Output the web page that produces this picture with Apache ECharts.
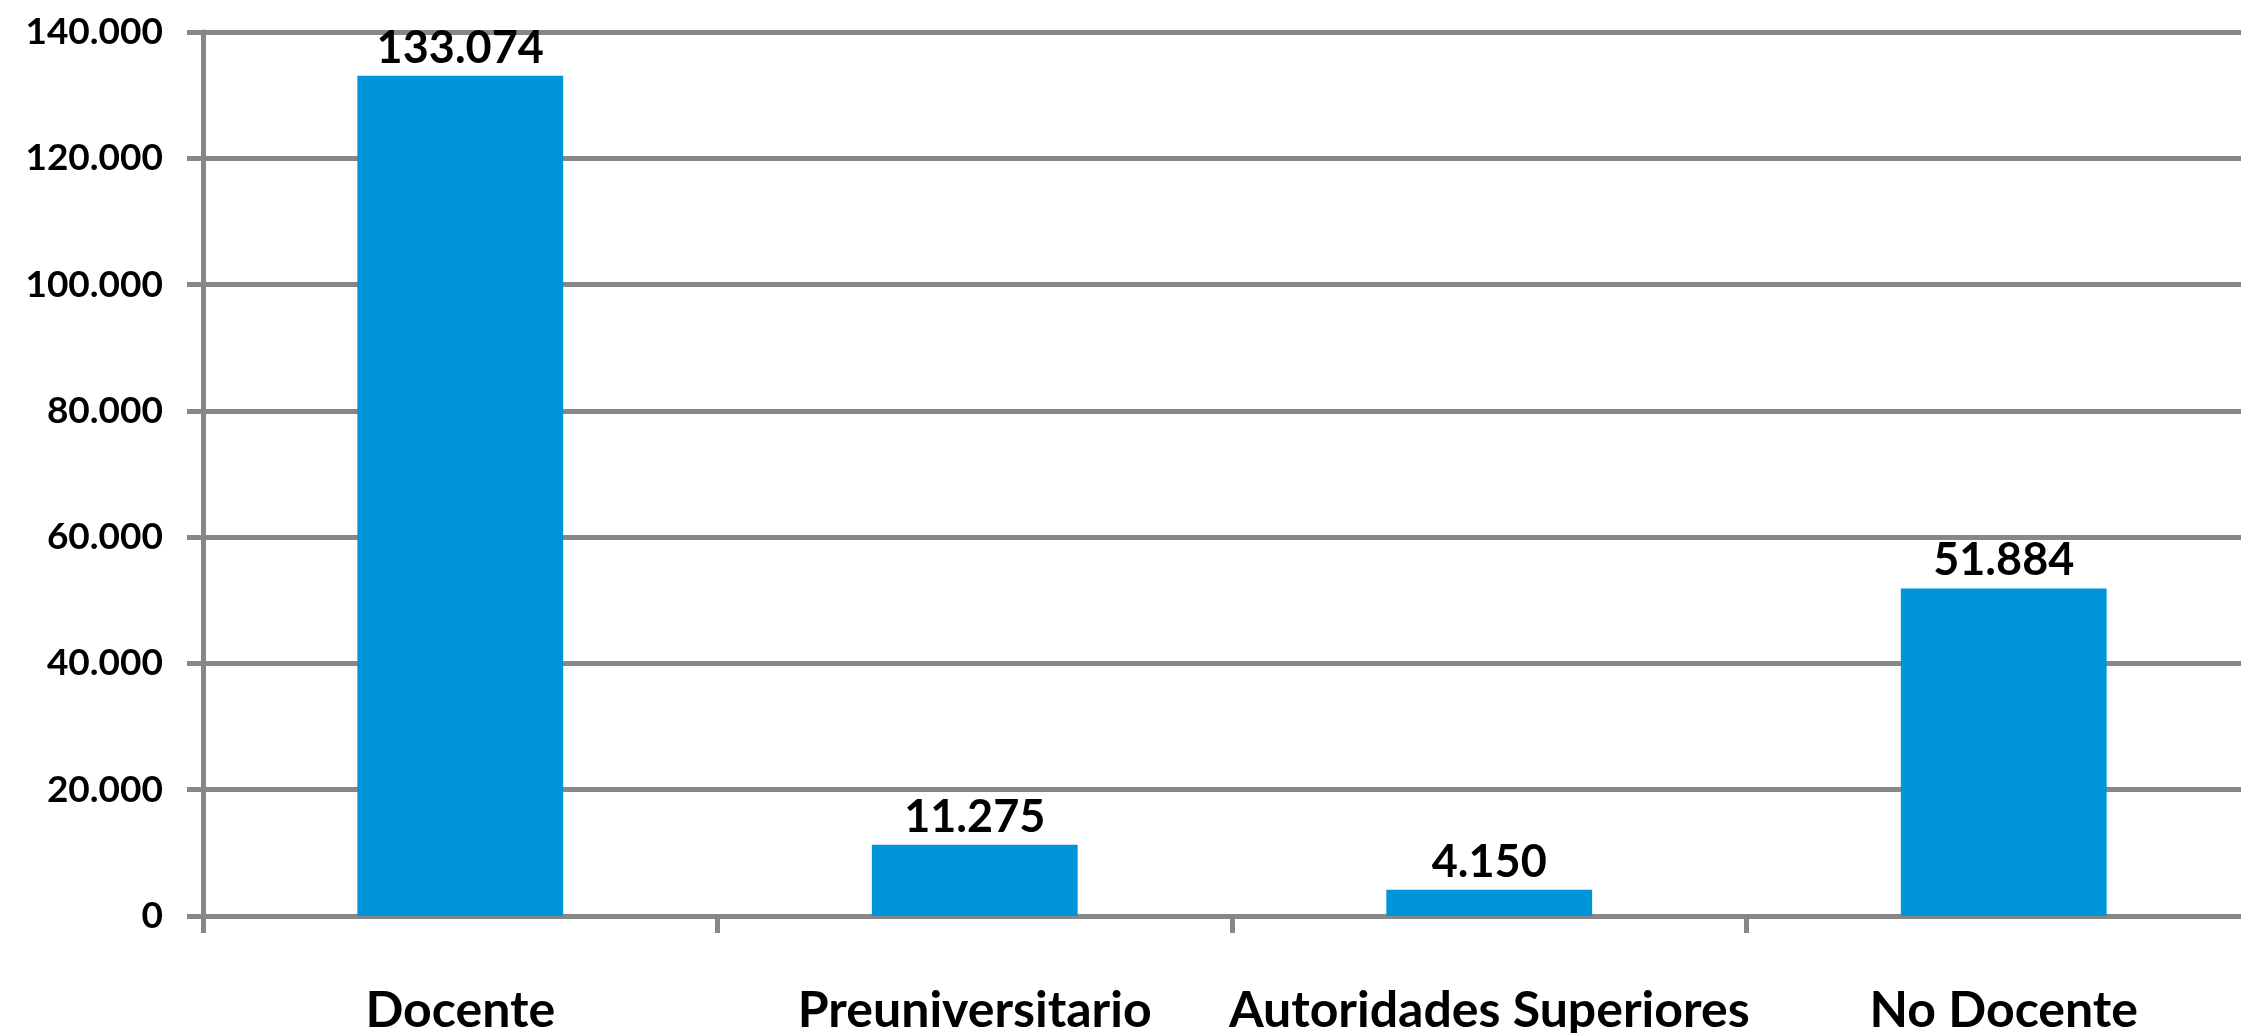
<!DOCTYPE html>
<html>
<head>
<meta charset="utf-8">
<style>
  html, body { margin: 0; padding: 0; background: #ffffff; }
  #chart { width: 2241px; height: 1033px; }
</style>
<script src="https://cdn.jsdelivr.net/npm/echarts@6/dist/echarts.min.js"></script>
</head>
<body>
<div id="chart"></div>
<script>
// Personal por categoría
const categories = ['Docente', 'Preuniversitario', 'Autoridades Superiores', 'No Docente'];
const values = [133074, 11275, 4150, 51884];
const yTicks = { min: 0, max: 140000, interval: 20000 };

// Spanish thousands separator: 133074 -> "133.074"
function fmt(v) {
  return String(Math.round(v)).replace(/\B(?=(\d{3})+(?!\d))/g, '.');
}

const axisGray = '#878787';
const font = 'Lato, "Open Sans", sans-serif';

const chart = echarts.init(document.getElementById('chart'), null, { renderer: 'canvas' });
chart.setOption({
  animation: false,
  backgroundColor: '#ffffff',
  // plot area runs slightly past the right edge of the canvas
  grid: {
    left: 203, top: 32, right: -20, bottom: 117,
    containLabel: false,
    outerBoundsMode: 'none'
  },
  xAxis: {
    type: 'category',
    data: categories,
    axisLine: { show: true, lineStyle: { color: axisGray, width: 5 } },
    axisTick: { show: true, length: 17, lineStyle: { color: axisGray, width: 5 } },
    axisLabel: {
      interval: 0,
      margin: 70,
      color: '#000000',
      fontFamily: font,
      fontWeight: 'bold',
      fontSize: 50
    },
    splitLine: { show: false }
  },
  yAxis: {
    type: 'value',
    min: yTicks.min,
    max: yTicks.max,
    interval: yTicks.interval,
    axisLine: { show: true, lineStyle: { color: axisGray, width: 5 } },
    axisTick: { show: true, length: 16, lineStyle: { color: axisGray, width: 5 } },
    axisLabel: {
      margin: 40,
      color: '#000000',
      fontFamily: font,
      fontWeight: 'bold',
      fontSize: 37,
      formatter: fmt
    },
    splitLine: { show: true, lineStyle: { color: axisGray, width: 5 } }
  },
  series: [{
    type: 'bar',
    data: values,
    barWidth: '40%',
    itemStyle: { color: '#0094D8' },
    label: {
      show: true,
      position: 'top',
      distance: 5,
      color: '#000000',
      fontFamily: font,
      fontWeight: 'bold',
      fontSize: 45,
      formatter: p => fmt(p.value)
    }
  }]
});
</script>
</body>
</html>
